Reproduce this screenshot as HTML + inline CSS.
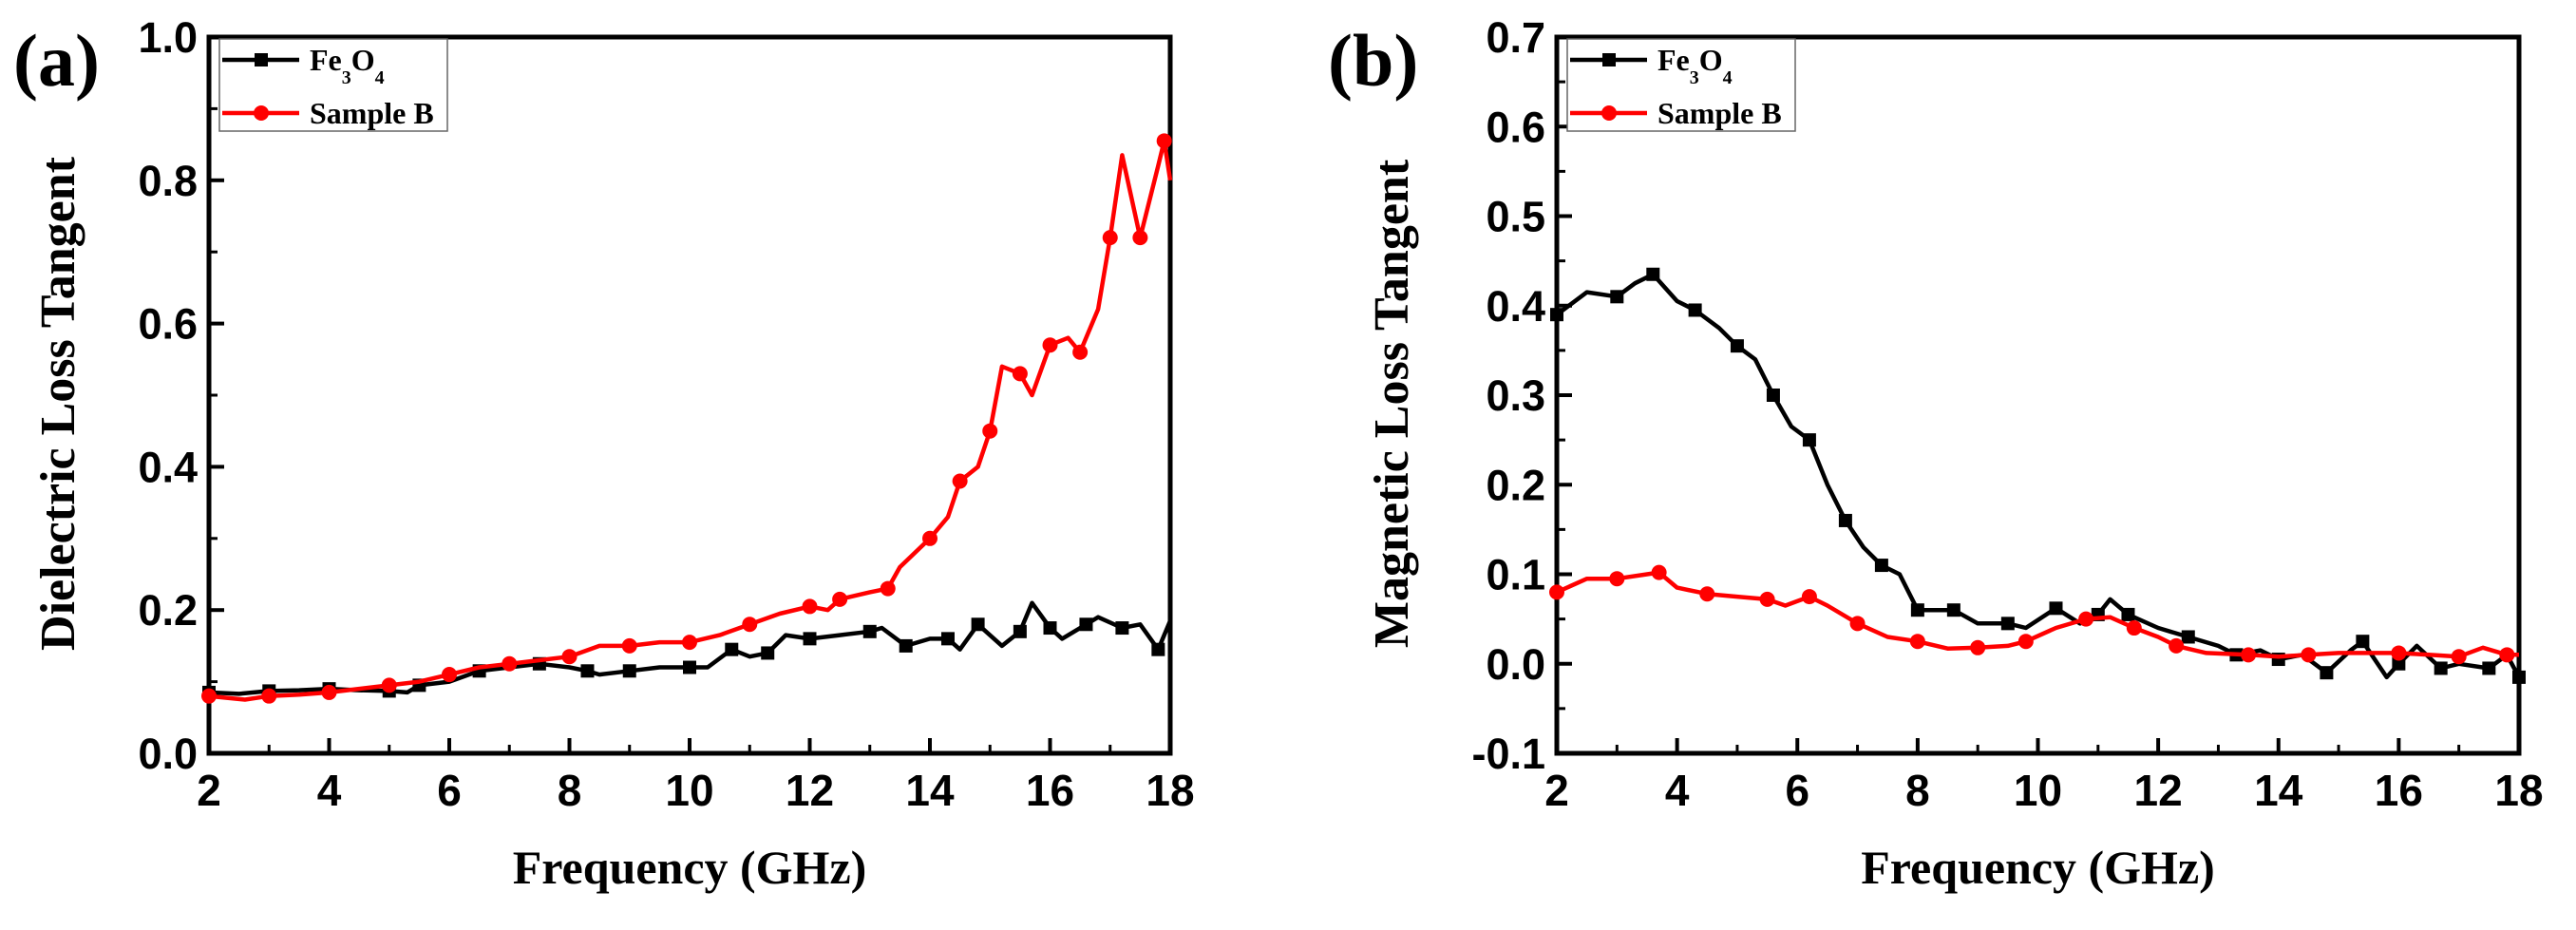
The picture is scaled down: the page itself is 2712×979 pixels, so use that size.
<!DOCTYPE html>
<html><head><meta charset="utf-8">
<style>
html,body{margin:0;padding:0;background:#fff;}
svg{display:block;}
</style></head>
<body>
<svg id="fig" width="2712" height="979" viewBox="0 0 2712 979" xmlns="http://www.w3.org/2000/svg"></svg>
<script>
// Panel (a) data: Dielectric loss tangent
const aFeX = [2,2.5,3,3.5,4,4.5,5,5.3,5.5,6,6.5,7,7.5,8,8.3,8.5,9,9.5,10,10.3,10.7,11,11.3,11.6,12,12.5,13,13.2,13.6,14,14.3,14.5,14.8,15.2,15.5,15.7,16,16.2,16.6,16.8,17.2,17.5,17.8,18];
const aFeY = [0.085,0.083,0.087,0.088,0.09,0.088,0.087,0.085,0.095,0.1,0.115,0.12,0.125,0.12,0.115,0.11,0.115,0.12,0.12,0.12,0.145,0.135,0.14,0.165,0.16,0.165,0.17,0.175,0.15,0.16,0.16,0.145,0.18,0.15,0.17,0.21,0.175,0.16,0.18,0.19,0.175,0.18,0.145,0.185];
const aBX = [2,2.6,3,3.5,4,4.5,5,5.5,6,6.5,7,7.5,8,8.5,9,9.5,10,10.5,11,11.5,12,12.3,12.5,13,13.3,13.5,14,14.3,14.5,14.8,15,15.2,15.5,15.7,16,16.3,16.5,16.8,17,17.2,17.5,17.8,17.9,18];
const aBY = [0.08,0.075,0.08,0.082,0.085,0.09,0.095,0.1,0.11,0.12,0.125,0.13,0.135,0.15,0.15,0.155,0.155,0.165,0.18,0.195,0.205,0.2,0.215,0.225,0.23,0.26,0.3,0.33,0.38,0.4,0.45,0.54,0.53,0.5,0.57,0.58,0.56,0.62,0.72,0.835,0.72,0.82,0.855,0.8];
// Panel (b) data: Magnetic loss tangent
const bFeX = [2,2.5,3,3.3,3.6,4,4.3,4.7,5,5.3,5.6,5.9,6.2,6.5,6.8,7.1,7.4,7.7,8,8.3,8.6,9,9.5,9.8,10.3,10.7,11,11.2,11.5,12,12.5,13,13.3,13.7,14,14.4,14.8,15.2,15.4,15.8,16,16.3,16.7,17,17.5,17.8,18];
const bFeY = [0.39,0.415,0.41,0.425,0.435,0.405,0.395,0.375,0.355,0.34,0.3,0.265,0.25,0.2,0.16,0.13,0.11,0.1,0.06,0.06,0.06,0.045,0.045,0.04,0.062,0.045,0.055,0.072,0.055,0.04,0.03,0.02,0.01,0.015,0.005,0.01,-0.01,0.015,0.025,-0.015,0.0,0.02,-0.005,0.0,-0.005,0.01,-0.015];
const bBX = [2,2.5,3,3.5,3.7,4,4.5,5,5.5,5.8,6.2,6.5,7,7.5,8,8.5,9,9.5,9.8,10.3,10.8,11.2,11.6,12,12.3,12.8,13.5,14,14.5,15,16,16.5,17,17.4,17.8,18];
const bBY = [0.08,0.095,0.095,0.1,0.102,0.085,0.078,0.075,0.072,0.065,0.075,0.065,0.045,0.03,0.025,0.017,0.018,0.02,0.025,0.04,0.05,0.052,0.04,0.03,0.02,0.012,0.01,0.008,0.01,0.012,0.012,0.01,0.008,0.018,0.01,0.01];
const xTicks = [2,4,6,8,10,12,14,16,18];
const aYTicks = [0.0,0.2,0.4,0.6,0.8,1.0];
const bYTicks = [-0.1,0.0,0.1,0.2,0.3,0.4,0.5,0.6,0.7];

const NS = "http://www.w3.org/2000/svg";
const svg = document.getElementById('fig');
function mk(tag, attrs, parent){
  const e = document.createElementNS(NS, tag);
  for (const k in attrs) e.setAttribute(k, attrs[k]);
  (parent||svg).appendChild(e);
  return e;
}

function panel(opt){
  const g = mk('g', {});
  
  
  const L=opt.left, R=opt.right, T=39, B=793;
  const sx = v => L + (v-2)/(18-2)*(R-L);
  const sy = v => B - (v-opt.ymin)/(opt.ymax-opt.ymin)*(B-T);
  const fr = mk('rect', {x:L,y:T,width:R-L,height:B-T,fill:'none',stroke:'#000','stroke-width':5}, g);
  
  
  xTicks.forEach(v=>{
    mk('line',{x1:sx(v),x2:sx(v),y1:B,y2:B-16,stroke:'#000','stroke-width':4},g);
    if (v<18) mk('line',{x1:sx(v+1),x2:sx(v+1),y1:B,y2:B-9,stroke:'#000','stroke-width':3},g);
    const t = mk('text',{x:sx(v),y:B+55,'text-anchor':'middle','font-family':'Liberation Sans, sans-serif','font-weight':'bold','font-size':46},g);
    t.textContent = v;
    
    
  });
  opt.yticks.forEach((v,i)=>{
    mk('line',{x1:L,x2:L+16,y1:sy(v),y2:sy(v),stroke:'#000','stroke-width':4},g);
    if (i<opt.yticks.length-1){
      const m=(v+opt.yticks[i+1])/2;
      mk('line',{x1:L,x2:L+9,y1:sy(m),y2:sy(m),stroke:'#000','stroke-width':3},g);
    }
    const t = mk('text',{x:L-12,y:sy(v)+16,'text-anchor':'end','font-family':'Liberation Sans, sans-serif','font-weight':'bold','font-size':45},g);
    t.textContent = v.toFixed(1);
    
    
  });
  function series(xs, ys, color, marker, nm){
    const sg = mk('g',{},g);
    
    
    const d = xs.map((x,i)=>(i?'L':'M')+sx(x).toFixed(1)+' '+sy(ys[i]).toFixed(1)).join(' ');
    mk('path',{d:d,fill:'none',stroke:color,'stroke-width':4.5,'stroke-linejoin':'round'},sg);
    xs.forEach((x,i)=>{
      if (i%2) return;
      let m;
      if (marker==='sq') m = mk('rect',{x:sx(x)-7,y:sy(ys[i])-7,width:14,height:14,fill:color},sg);
      else m = mk('circle',{cx:sx(x),cy:sy(ys[i]),r:8,fill:color},sg);
      
      
    });
  }
  series(opt.feX, opt.feY, '#000', 'sq', 'series-fe3o4');
  series(opt.bX, opt.bY, '#ff0000', 'ci', 'series-sample-b');
  const lg = mk('g',{},g);
  
  
  const lx = L+11;
  mk('rect',{x:lx,y:41,width:opt.legW,height:97,fill:'#fff',stroke:'#666','stroke-width':1.5},lg);
  mk('line',{x1:lx+3,x2:lx+84,y1:63,y2:63,stroke:'#000','stroke-width':4.5},lg);
  mk('rect',{x:lx+37,y:56,width:14,height:14,fill:'#000'},lg);
  mk('line',{x1:lx+3,x2:lx+84,y1:119,y2:119,stroke:'#ff0000','stroke-width':4.5},lg);
  mk('circle',{cx:lx+44,cy:119,r:8,fill:'#ff0000'},lg);
  const t1 = mk('text',{x:lx+95,y:74,'font-family':'Liberation Serif, serif','font-weight':'bold','font-size':32},lg);
  t1.innerHTML = 'Fe<tspan dy="14" font-size="20">3</tspan><tspan dy="-14">O</tspan><tspan dy="14" font-size="20">4</tspan>';
  
  
  const t2 = mk('text',{x:lx+95,y:130,'font-family':'Liberation Serif, serif','font-weight':'bold','font-size':32},lg);
  t2.textContent = 'Sample B';
  
  
  const xt = mk('text',{x:(L+R)/2,y:930,'text-anchor':'middle','font-family':'Liberation Serif, serif','font-weight':'bold','font-size':50},g);
  xt.textContent = 'Frequency (GHz)';
  
  
  const yt = mk('text',{x:0,y:0,'text-anchor':'middle','font-family':'Liberation Serif, serif','font-weight':'bold','font-size':52,transform:'translate('+(opt.ylx)+',425) rotate(-90)'},g);
  yt.textContent = opt.ytitle;
  
  
  const pl = mk('text',{x:opt.plx,y:90,'font-family':'Liberation Serif, serif','font-weight':'bold','font-size':78},g);
  pl.textContent = opt.label;
  
  
}

panel({name:'panel-a', left:220, right:1232, ymin:0, ymax:1.0, yticks:aYTicks,
  feX:aFeX, feY:aFeY, bX:aBX, bY:aBY, legW:240, ytitle:'Dielectric Loss Tangent', ylx:78, plx:14, label:'(a)'});
panel({name:'panel-b', left:1639, right:2652, ymin:-0.1, ymax:0.7, yticks:bYTicks,
  feX:bFeX, feY:bFeY, bX:bBX, bY:bBY, legW:240, ytitle:'Magnetic Loss Tangent', ylx:1482, plx:1398, label:'(b)'});
</script>
</body></html>
